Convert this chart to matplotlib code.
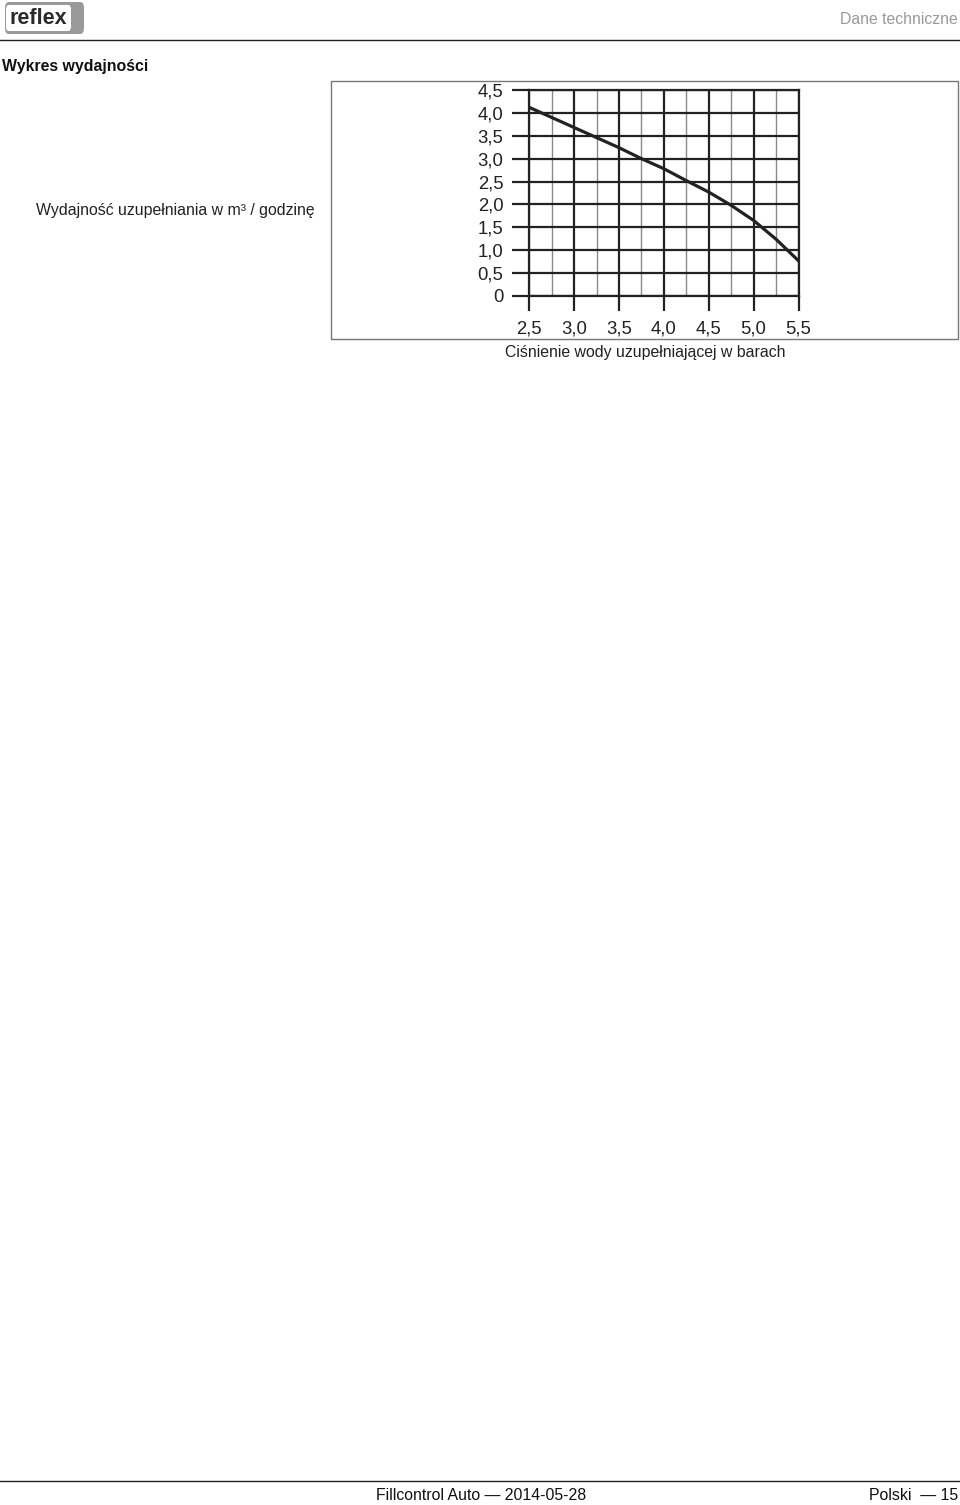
import matplotlib
matplotlib.use("Agg")
import matplotlib.pyplot as plt
from matplotlib.patches import Rectangle, FancyBboxPatch
from matplotlib.ticker import FixedLocator, FixedFormatter

plt.rcParams['font.family'] = ['Liberation Sans', 'DejaVu Sans']

# ---- data ----
pressure = [2.5, 3.0, 3.5, 3.75, 4.0, 4.25, 4.5, 4.75, 5.0, 5.25, 5.5]
flow = [4.12, 3.68, 3.24, 3.0, 2.78, 2.52, 2.27, 1.98, 1.65, 1.24, 0.77]
x_ticks = [2.5, 3.0, 3.5, 4.0, 4.5, 5.0, 5.5]
x_tick_labels = ["2,5", "3,0", "3,5", "4,0", "4,5", "5,0", "5,5"]
x_minor = [2.75, 3.25, 3.75, 4.25, 4.75, 5.25]
y_ticks = [0, 0.5, 1.0, 1.5, 2.0, 2.5, 3.0, 3.5, 4.0, 4.5]
y_tick_labels = ["0", "0,5", "1,0", "1,5", "2,0", "2,5", "3,0", "3,5", "4,0", "4,5"]

W, H = 960, 1505
fig = plt.figure(figsize=(W / 100, H / 100), dpi=100)

def fx(px):
    return px / W

def fy(py):
    return 1 - py / H

# header line
fig.add_artist(plt.Line2D([0, 1], [fy(40), fy(40)], color='#222222', lw=1.0))
# logo
fig.add_artist(FancyBboxPatch((fx(5), fy(34)), fx(79), fy(2) - fy(34),
                              boxstyle="round,pad=0,rounding_size=0.004",
                              facecolor='#9a9a9a', edgecolor='none'))
fig.add_artist(FancyBboxPatch((fx(6), fy(31)), fx(65), fy(5) - fy(31),
                              boxstyle="round,pad=0,rounding_size=0.003",
                              facecolor='white', edgecolor='none'))
fig.text(fx(38), fy(18), "reflex", ha='center', va='center', fontsize=15.5,
         fontweight='bold', color='#2a2a2a')
fig.text(fx(958), fy(19), "Dane techniczne", ha='right', va='center',
         fontsize=11.3, color='#999999')
fig.text(fx(2), fy(67), "Wykres wydajności", ha='left', va='center',
         fontsize=11.4, fontweight='bold', color='#111111')

# outer box
fig.add_artist(Rectangle((fx(331), fy(339)), fx(958 - 331), fy(81) - fy(339),
                         facecolor='none', edgecolor='#777777', lw=1.0))

fig.text(fx(175), fy(211), "Wydajność uzupełniania w m³ / godzinę",
         ha='center', va='center', fontsize=11.4, color='#222222')

# chart axes
ax = fig.add_axes([fx(529.3), fy(296), fx(798.5 - 529.3), fy(90) - fy(296)])
ax.set_xlim(2.5, 5.5)
ax.set_ylim(0, 4.5)
for xm in x_minor:
    ax.axvline(xm, color='#8a8a8a', lw=1.0, zorder=1)
for xv in x_ticks:
    ax.axvline(xv, color='#222222', lw=1.6, zorder=2)
for yv in y_ticks:
    ax.axhline(yv, color='#222222', lw=1.6, zorder=2)
ax.plot(pressure, flow, color='#222222', lw=2.3, zorder=3,
        solid_joinstyle='round')

ax.xaxis.set_major_locator(FixedLocator(x_ticks))
ax.xaxis.set_major_formatter(FixedFormatter(x_tick_labels))
ax.yaxis.set_major_locator(FixedLocator(y_ticks))
ax.yaxis.set_major_formatter(FixedFormatter(y_tick_labels))
ax.tick_params(axis='x', length=11, width=1.6, color='#222222', pad=7,
               labelsize=13.3, labelcolor='#222222')
ax.tick_params(axis='y', length=12.5, width=1.6, color='#222222', pad=6,
               labelsize=13.3, labelcolor='#222222')
for s in ax.spines.values():
    s.set_color('#222222')
    s.set_linewidth(1.6)

fig.text(fx(645), fy(353), "Ciśnienie wody uzupełniającej w barach",
         ha='center', va='center', fontsize=11.4, color='#222222')

# footer
fig.add_artist(plt.Line2D([0, 1], [fy(1481), fy(1481)], color='#222222', lw=1.0))
fig.text(fx(481), fy(1496), "Fillcontrol Auto — 2014-05-28", ha='center',
         va='center', fontsize=11.4, color='#111111')
fig.text(fx(958), fy(1496), "Polski  — 15", ha='right', va='center',
         fontsize=11.4, color='#111111')

fig.savefig("out.png", dpi=100, facecolor='white')
